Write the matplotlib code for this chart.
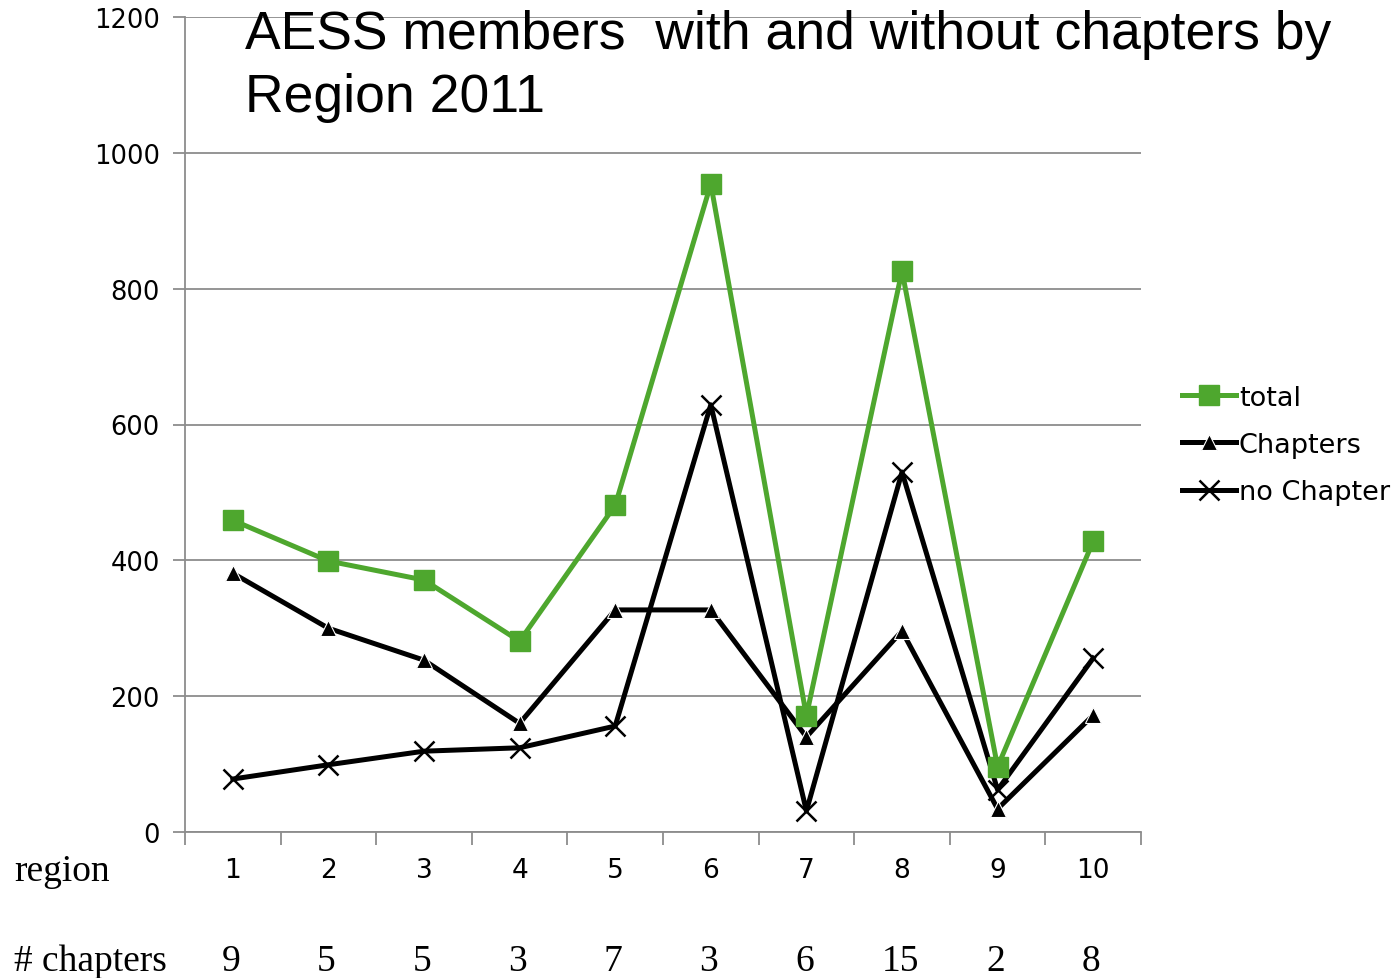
import matplotlib

matplotlib.use("Agg")
import matplotlib.pyplot as plt
import matplotlib.transforms as mtransforms
import numpy as np

regions = ["1", "2", "3", "4", "5", "6", "7", "8", "9", "10"]
chapter_counts = ["9", "5", "5", "3", "7", "3", "6", "15", "2", "8"]
total = [459, 399, 371, 281, 481, 954, 171, 826, 96, 428]
chapters = [381, 300, 253, 160, 327, 327, 140, 296, 34, 172]
no_chapter = [78, 99, 119, 124, 156, 629, 31, 530, 62, 256]

GREEN = "#4ea72e"
GRID = "#8c8c8c"

fig = plt.figure(figsize=(13.94, 9.79), dpi=100)
ax = fig.add_axes([185 / 1394, 1 - 833 / 979, (1141 - 185) / 1394, (833 - 18) / 979])

x = np.arange(1, len(regions) + 1)
ax.plot(x, no_chapter, color="black", lw=3.6, marker="x", ms=15, mew=1.8,
        label="no Chapter", zorder=3)
ax.plot(x, chapters, color="black", lw=3.6, marker="^", ms=11,
        markeredgecolor="white", markeredgewidth=0.8, label="Chapters", zorder=3)
ax.plot(x, total, color=GREEN, lw=3.6, marker="s", ms=14, label="total", zorder=4)

ax.set_xlim(0.5, 10.5)
ax.set_ylim(0, 1200)
ax.set_yticks(np.arange(0, 1201, 200))
ax.yaxis.grid(True, color=GRID, lw=1.3)
ax.set_axisbelow(True)

# ticks at category boundaries, labels at centres
ax.set_xticks(np.arange(0.5, 11, 1))
ax.set_xticklabels([])
ax.set_xticks(x, minor=True)
ax.set_xticklabels(regions, minor=True)
ax.tick_params(axis="x", which="major", length=9, width=1.3, color=GRID, direction="out")
ax.tick_params(axis="x", which="minor", length=0, pad=18, labelsize=19)
ax.tick_params(axis="y", length=9, width=1.3, color=GRID, labelsize=18.5, pad=9)

for side in ["top", "right"]:
    ax.spines[side].set_visible(False)
for side in ["left", "bottom"]:
    ax.spines[side].set_color(GRID)
    ax.spines[side].set_linewidth(1.3)

ax.text(245 / 1394, 1 - 10 / 979, "AESS members  with and without chapters by\nRegion 2011",
        transform=fig.transFigure, ha="left", va="top", fontsize=38.5,
        family="Liberation Sans", linespacing=1.33)

# row labels below the axis
fig.text(14 / 1394, 1 - 872 / 979, "region", ha="left", va="center",
         fontsize=27, family="Liberation Serif")
fig.text(14 / 1394, 1 - 962 / 979, "# chapters", ha="left", va="center",
         fontsize=27, family="Liberation Serif")
trans = mtransforms.blended_transform_factory(ax.transData, fig.transFigure)
for xi, c in zip(x, chapter_counts):
    ax.text(xi - 0.02, 1 - 962 / 979, c, transform=trans, ha="center", va="center",
            fontsize=27, family="Liberation Serif")

handles, labels = ax.get_legend_handles_labels()
order = [2, 1, 0]
ax.legend([handles[i] for i in order], [labels[i] for i in order],
          loc="center left", bbox_to_anchor=(1.043, 0.475), frameon=False,
          fontsize=19.5, handlelength=2.0, handletextpad=0.1, labelspacing=0.78,
          borderaxespad=0, borderpad=0)

fig.savefig("out.png", dpi=100)
